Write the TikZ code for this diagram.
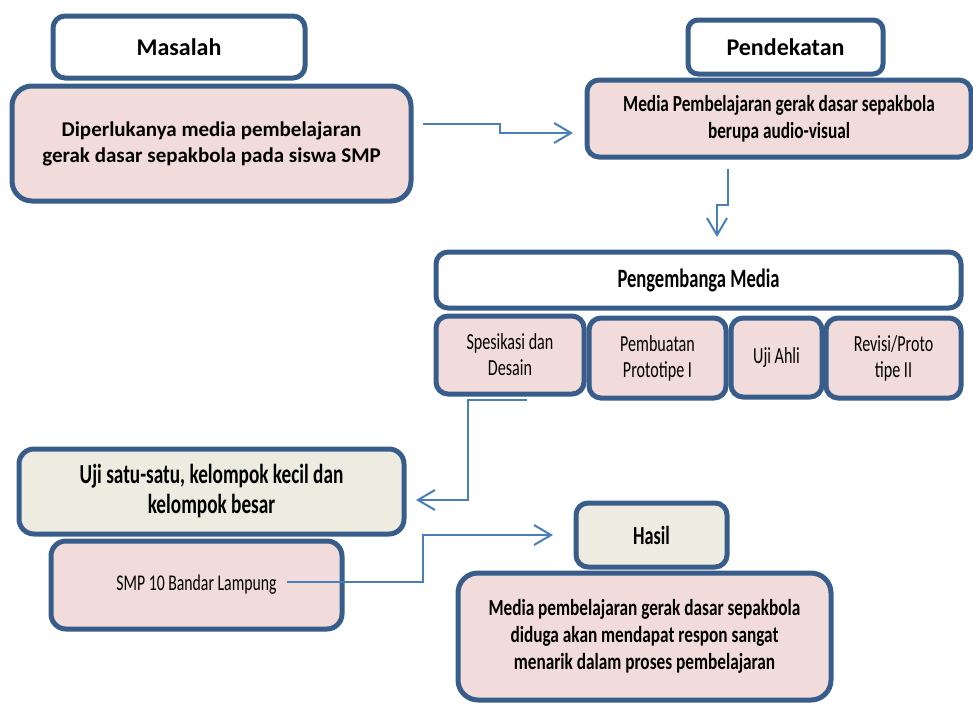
\documentclass[tikz,border=0pt]{standalone}
\usepackage{fontspec}
\usetikzlibrary{arrows.meta}
\setmainfont{Carlito}
\newfontfamily\calfont{Carlito}
\newfontfamily\agfont{Carlito}[FakeStretch=0.75]
\newfontfamily\agfontn{Carlito}[FakeStretch=0.70]
\definecolor{bordc}{HTML}{385D8A}
\definecolor{arrc}{HTML}{4A7EBB}
\definecolor{pinkc}{HTML}{F2DCDB}
\definecolor{beigec}{HTML}{EEECE1}
\tikzset{
  box/.style={draw=bordc, line width=5pt, inner sep=0pt, align=center, text=black},
  conn/.style={draw=arrc, line width=2pt, -{Straight Barb[length=17pt,width=20pt,line width=2pt]}},
  calh/.style={font={\calfont\bfseries\fontsize{24}{28}\selectfont}},
  calb/.style={font={\calfont\bfseries\fontsize{21}{26}\selectfont}},
  agb/.style={font={\agfont\bfseries\fontsize{23}{27}\selectfont}},
  agh/.style={font={\agfontn\bfseries\fontsize{26.5}{30}\selectfont}},
  agr/.style={font={\agfontn\fontsize{23}{26}\selectfont}},
}
\begin{document}
\begin{tikzpicture}[x=1pt,y=-1pt]
\useasboundingbox (0,0) rectangle (973,704);
% top left
\node[box, calh, fill=white, rounded corners=12pt, minimum width=252pt, minimum height=62pt] (masalah) at (179,47) {Masalah};
\node[box, calb, fill=pinkc, rounded corners=20pt, minimum width=399pt, minimum height=115pt] (dip) at (211.5,143.5) {Diperlukanya media pembelajaran\\gerak dasar sepakbola pada siswa SMP};
% top right
\node[box, calh, fill=white, rounded corners=10pt, minimum width=195pt, minimum height=54pt] (pend) at (785.5,47) {Pendekatan};
\node[box, agb, fill=pinkc, rounded corners=12pt, minimum width=384pt, minimum height=77pt] (mpa) at (779,118.5) {Media Pembelajaran gerak dasar sepakbola\\berupa audio-visual};
% development
\node[box, agh, fill=white, rounded corners=12pt, minimum width=525pt, minimum height=56pt] (peng) at (698.5,280) {Pengembanga Media};
\node[box, agr, fill=pinkc, rounded corners=12pt, minimum width=148pt, minimum height=78pt] (spes) at (510,355) {Spesikasi dan\\Desain};
\node[box, agr, fill=pinkc, rounded corners=12pt, minimum width=137pt, minimum height=80pt] (pemb) at (657.5,358) {Pembuatan\\Prototipe I};
\node[box, agr, fill=pinkc, rounded corners=12pt, minimum width=91pt, minimum height=79pt] (ujiahli) at (776.5,357.5) {Uji Ahli};
\node[box, agr, fill=pinkc, rounded corners=12pt, minimum width=135pt, minimum height=80pt] (rev) at (893.5,358) {Revisi/Proto\\tipe II};
% bottom left
\node[box, font={\agfontn\bfseries\fontsize{27.5}{30}\selectfont}, fill=beigec, rounded corners=15pt, minimum width=385pt, minimum height=85pt] (ujis) at (211.5,491.5) {Uji satu-satu, kelompok kecil dan\\kelompok besar};
\node[box, font={\agfontn\fontsize{22.5}{26}\selectfont}, fill=pinkc, rounded corners=15pt, minimum width=291pt, minimum height=88pt] (smp) at (196.5,585) {SMP 10 Bandar Lampung};
% bottom right
\node[box, font={\agfontn\bfseries\fontsize{26}{28}\selectfont}, fill=beigec, rounded corners=12pt, minimum width=151pt, minimum height=64pt] (hasil) at (651.5,535) {Hasil};
\node[box, agb, fill=pinkc, rounded corners=20pt, minimum width=373pt, minimum height=127pt] (fin) at (644.5,636.5) {Media pembelajaran gerak dasar sepakbola\\diduga akan mendapat respon sangat\\menarik dalam proses pembelajaran};
% connectors
\coordinate (a1s) at (423,124);
\coordinate (a1e) at (573,133);
\draw[conn] (a1s) -- (500,124) -- (500,133) -- (a1e);
\coordinate (a2s) at (728,169);
\coordinate (a2e) at (717,237);
\draw[conn] (a2s) -- (728,205) -- (717,205) -- (a2e);
\coordinate (a3s) at (527,400);
\coordinate (a3e) at (416,500);
\draw[conn] (a3s) -- (468,400) -- (468,500) -- (a3e);
\coordinate (a4s) at (287,582);
\coordinate (a4e) at (553,535);
\draw[conn] (a4s) -- (423,582) -- (423,535) -- (a4e);
\end{tikzpicture}
\end{document}
